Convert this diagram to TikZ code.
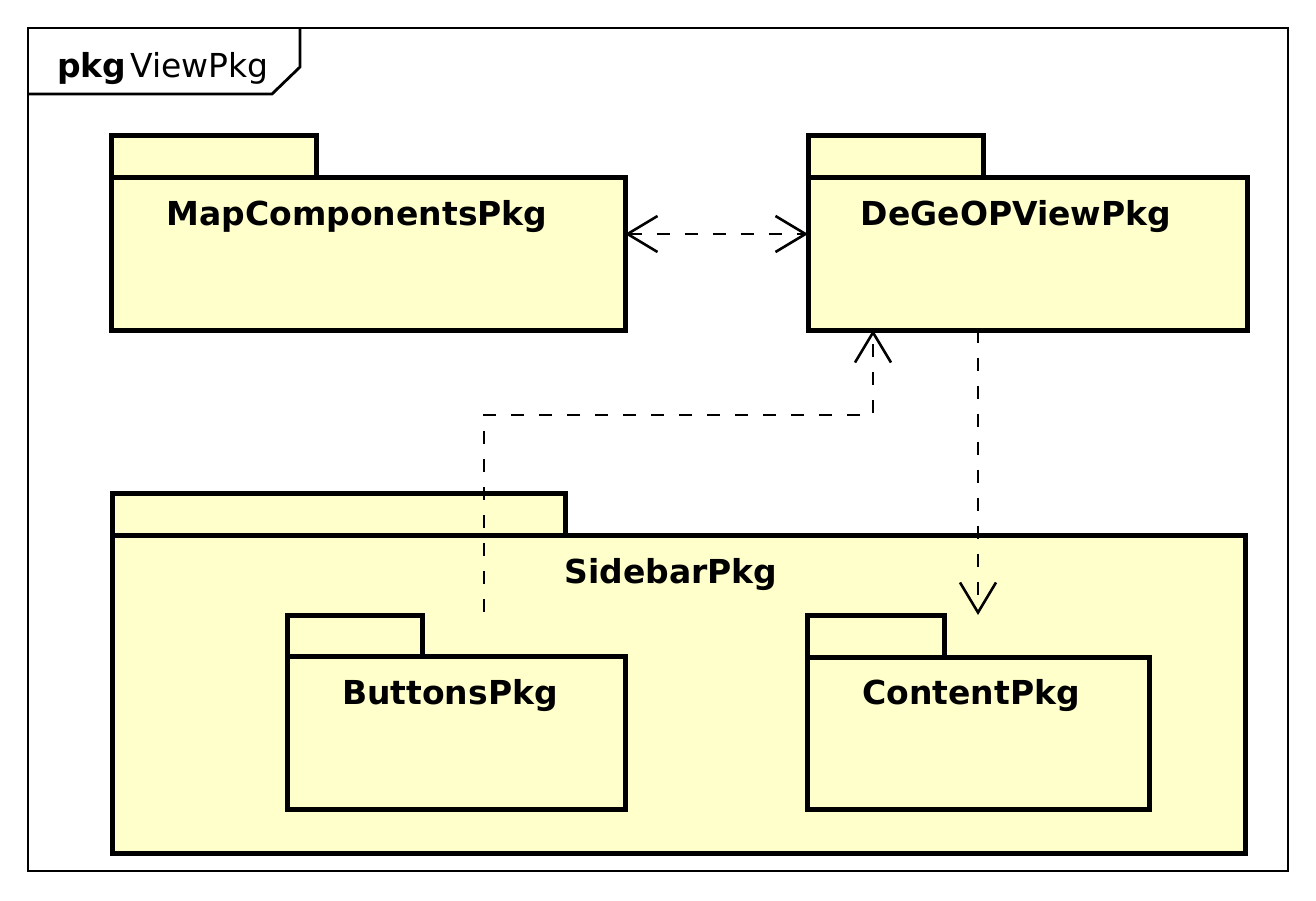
\documentclass[tikz,border=0pt]{standalone}
\usepackage{fontspec}
\setmainfont{DejaVu Sans}
\usetikzlibrary{arrows.meta}
\definecolor{pkgyellow}{RGB}{255,255,204}
\tikzset{
  pkgbox/.style={draw, line width=5pt, fill=pkgyellow, inner sep=0pt, outer sep=0pt, anchor=north west},
  pkgname/.style={anchor=base, inner sep=0pt, font=\fontsize{33}{39}\selectfont\bfseries},
  dep/.style={line width=2.8pt, dash pattern=on 13pt off 15pt},
  barb/.style={-{Straight Barb[length=30pt,width=36pt,line width=2.6pt]}},
  barbs/.style={{Straight Barb[length=30pt,width=36pt,line width=2.6pt]}-{Straight Barb[length=30pt,width=36pt,line width=2.6pt]}}
}
\begin{document}
\begin{tikzpicture}[x=1pt,y=-1pt]
\useasboundingbox (0,0) rectangle (1316,900);
% frame
\draw[line width=2.8pt] (28,28) rectangle (1288,871);
\draw[line width=2.8pt] (28,94) -- (272,94) -- (300,67) -- (300,28);
\node[anchor=base west, inner sep=0pt, font=\fontsize{33}{39}\selectfont] (title) at (57,77) {\textbf{pkg}\hspace{4pt}ViewPkg};

% MapComponentsPkg
\node[pkgbox, minimum width=205pt, minimum height=42pt] (maptab) at (111,135) {};
\node[pkgbox, minimum width=514pt, minimum height=153pt] (map) at (111,177) {};
\node[pkgname] (maplbl) at (357,225) {MapComponentsPkg};

% DeGeOPViewPkg
\node[pkgbox, minimum width=175pt, minimum height=42pt] (degtab) at (808,135) {};
\node[pkgbox, minimum width=439pt, minimum height=153pt] (deg) at (808,177) {};
\node[pkgname] (deglbl) at (1016,225) {DeGeOPViewPkg};

% SidebarPkg
\node[pkgbox, minimum width=453pt, minimum height=42pt] (sidetab) at (112,493) {};
\node[pkgbox, minimum width=1133pt, minimum height=318pt] (side) at (112,535) {};
\node[pkgname] (sidelbl) at (671,583) {SidebarPkg};

% ButtonsPkg
\node[pkgbox, minimum width=135pt, minimum height=41pt] (btntab) at (287,615) {};
\node[pkgbox, minimum width=338pt, minimum height=153pt] (btn) at (287,656) {};
\node[pkgname] (btnlbl) at (450,704) {ButtonsPkg};

% ContentPkg
\node[pkgbox, minimum width=137pt, minimum height=42pt] (cnttab) at (807,615) {};
\node[pkgbox, minimum width=342pt, minimum height=152pt] (cnt) at (807,657) {};
\node[pkgname] (cntlbl) at (971,704) {ContentPkg};

% connectors
\coordinate (yrow) at (0,234);
\draw[dep, barbs] (map.east |- yrow) -- (deg.west |- yrow);

\coordinate (bstart) at (484,612);
\coordinate (bbend) at (873,415);
\draw[dep, barb] (bstart) |- (bbend) -- (deg.south -| bbend);

\coordinate (xc) at (978,0);
\draw[dep, barb] (deg.south -| xc) -- (cnttab.north -| xc);
\end{tikzpicture}
\end{document}
